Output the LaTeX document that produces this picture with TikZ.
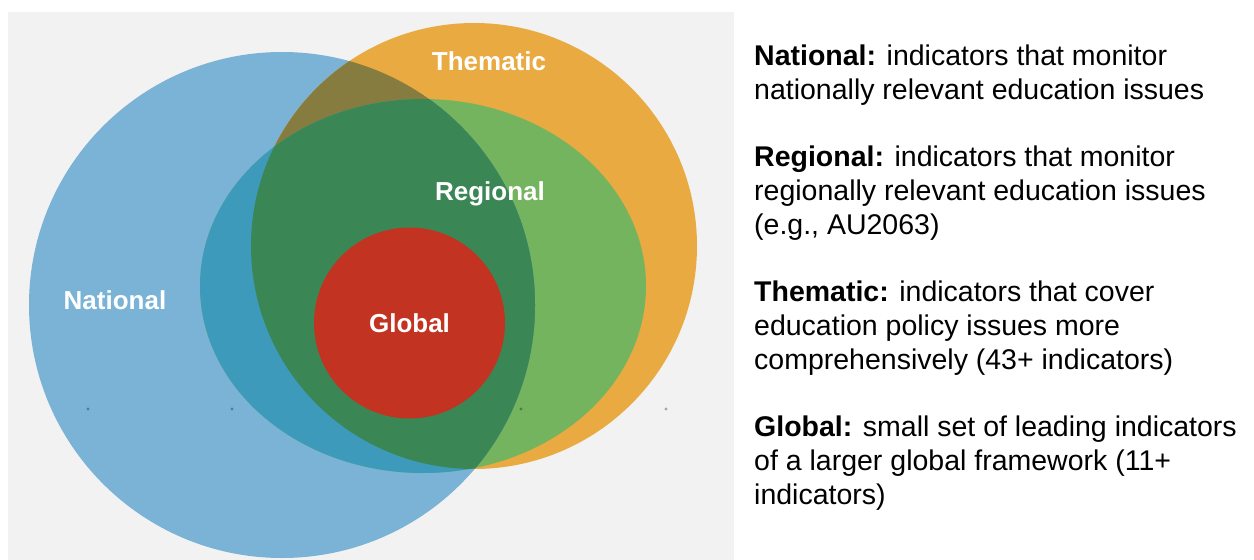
\documentclass[tikz,border=0pt]{standalone}
\usepackage{fontspec}
\setmainfont{Liberation Sans}
\definecolor{panelgray}{HTML}{F2F2F2}
\definecolor{natblue}{HTML}{7AB3D6}
\definecolor{themorange}{HTML}{E9AA42}
\definecolor{reggreen}{HTML}{74B45E}
\definecolor{tealmix}{HTML}{3E9ABB}
\definecolor{darkmix}{HTML}{3A8755}
\definecolor{olivemix}{HTML}{877C3F}
\definecolor{globred}{HTML}{C23322}
\tikzset{
  vennlabel/.style={text=white, font=\fontsize{26}{30}\selectfont\bfseries, inner sep=0pt, anchor=base},
  descline/.style={text=black, font=\fontsize{28.5}{33.75}\selectfont, inner sep=0pt, anchor=base west},
  dotmark/.style={fill=black, fill opacity=0.3, draw=none}
}
\begin{document}
\begin{tikzpicture}[x=1pt,y=-1pt]
\useasboundingbox (0,0) rectangle (1254,560);
\fill[white] (0,0) rectangle (1254,560);
\fill[panelgray] (8,12) rectangle (734,560);
% circles
\def\natpath{(282,305) circle[radius=253pt]}
\def\thempath{(474,246) circle[radius=223pt]}
\def\regpath{(423,286) ellipse[x radius=223pt, y radius=187pt]}
\fill[natblue] \natpath;
\fill[themorange] \thempath;
\fill[reggreen] \regpath;
\begin{scope}
  \clip \natpath;
  \fill[olivemix] \thempath;
  \fill[tealmix] \regpath;
  \clip \thempath;
  \fill[darkmix] \regpath;
\end{scope}
\fill[globred] (409.5,323) circle[radius=95.5pt];
% dots
\fill[dotmark] (88,409) circle[radius=1.6pt];
\fill[dotmark] (232,409) circle[radius=1.6pt];
\fill[dotmark] (521,409) circle[radius=1.6pt];
\fill[dotmark] (666,409) circle[radius=1.6pt];
% labels
\node[vennlabel] (lnat) at (115,309) {National};
\node[vennlabel] (lthem) at (489,70) {Thematic};
\node[vennlabel] (lreg) at (490,200) {Regional};
\node[vennlabel] (lglob) at (409.5,332) {Global};
% description
\node[descline] (n1) at (754,65.5) {\textbf{National:} indicators that monitor};
\node[descline] (n2) at (754,99.25) {nationally relevant education issues};
\node[descline] (r1) at (754,166.75) {\textbf{Regional:} indicators that monitor};
\node[descline] (r2) at (754,200.5) {regionally relevant education issues};
\node[descline] (r3) at (754,234.25) {(e.g., AU2063)};
\node[descline] (t1) at (754,301.75) {\textbf{Thematic:} indicators that cover};
\node[descline] (t2) at (754,335.5) {education policy issues more};
\node[descline] (t3) at (754,369.25) {comprehensively (43+ indicators)};
\node[descline] (g1) at (754,436.75) {\textbf{Global:} small set of leading indicators};
\node[descline] (g2) at (754,470.5) {of a larger global framework (11+};
\node[descline] (g3) at (754,504.25) {indicators)};
\end{tikzpicture}
\end{document}
